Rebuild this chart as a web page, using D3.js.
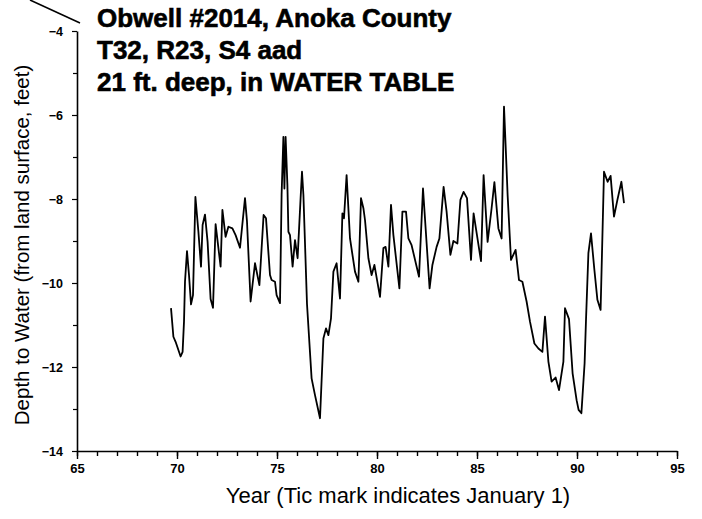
<!DOCTYPE html>
<html>
<head>
<meta charset="utf-8">
<script src="https://cdn.jsdelivr.net/npm/d3@7"></script>
<style>
  html, body { margin: 0; padding: 0; background: #fff; }
  svg { display: block; }
  text { font-family: "Liberation Sans", Arial, Helvetica, sans-serif; fill: #000; }
</style>
</head>
<body>
<svg id="chart" width="702" height="519"></svg>
<script>
// ---- data ----
const years = [
  69.70, 69.82, 69.93, 70.18, 70.28, 70.35, 70.40, 70.50, 70.60, 70.70, 70.80, 70.92,
  71.07, 71.20, 71.28, 71.40, 71.53, 71.68, 71.80, 71.93, 72.18, 72.27, 72.43, 72.57,
  72.77, 72.93, 73.15, 73.40, 73.50, 73.68, 73.90, 74.12, 74.33, 74.45, 74.65, 74.73,
  74.90, 74.98, 75.15, 75.23, 75.32, 75.37, 75.43, 75.52, 75.57, 75.65, 75.78, 75.90,
  76.03, 76.18, 76.25, 76.32, 76.50, 76.73, 76.90, 77.15, 77.32, 77.45, 77.57, 77.70,
  77.82, 77.98, 78.15, 78.27, 78.35, 78.48, 78.65, 78.90, 79.07, 79.20, 79.32, 79.40,
  79.57, 79.73, 79.87, 80.15, 80.32, 80.43, 80.57, 80.70, 80.82, 81.12, 81.27, 81.45,
  81.57, 81.73, 82.10, 82.30, 82.63, 82.77, 82.98, 83.12, 83.33, 83.48, 83.67, 83.82,
  84.02, 84.17, 84.33, 84.50, 84.70, 84.83, 85.20, 85.33, 85.53, 85.73, 85.87, 86.07,
  86.23, 86.35, 86.43, 86.53, 86.70, 86.93, 87.10, 87.27, 87.48, 87.65, 87.87, 88.07,
  88.27, 88.40, 88.57, 88.73, 88.93, 89.10, 89.32, 89.40, 89.60, 89.78, 89.98, 90.08,
  90.22, 90.38, 90.45, 90.57, 90.70, 90.87, 91.02, 91.18, 91.35, 91.53, 91.68, 91.85,
  92.02, 92.22, 92.35
];
const depths = [
  -10.60, -11.28, -11.40, -11.75, -11.64, -10.92, -9.97, -9.24, -9.81, -10.51, -10.29, -7.95,
  -8.78, -9.61, -8.62, -8.37, -9.02, -10.38, -10.59, -8.60, -9.61, -8.26, -8.90, -8.66,
  -8.70, -8.86, -9.16, -7.98, -8.54, -10.44, -9.53, -10.05, -8.38, -8.46, -9.81, -9.93,
  -9.97, -10.29, -10.48, -7.90, -6.52, -7.75, -6.52, -7.67, -8.78, -8.86, -9.61, -8.98,
  -9.41, -7.98, -7.35, -7.90, -10.50, -12.27, -12.67, -13.22, -11.32, -11.08, -11.24, -10.84,
  -9.73, -9.53, -10.37, -8.34, -8.46, -7.43, -8.94, -9.73, -9.97, -7.98, -8.22, -8.50,
  -9.41, -9.81, -9.57, -10.33, -9.17, -9.14, -9.61, -8.14, -8.86, -10.13, -8.30, -8.30,
  -8.94, -9.10, -9.85, -7.75, -10.13, -9.57, -9.14, -8.94, -7.71, -8.30, -9.33, -9.00,
  -9.06, -8.02, -7.83, -7.98, -9.45, -8.34, -9.48, -7.43, -9.02, -8.22, -7.60, -8.70,
  -8.94, -5.80, -6.71, -7.90, -9.45, -9.21, -9.93, -9.97, -10.44, -10.92, -11.44, -11.56,
  -11.64, -10.80, -11.87, -12.35, -12.25, -12.55, -11.87, -10.60, -10.86, -12.15, -12.79, -13.02,
  -13.10, -11.91, -10.88, -9.29, -8.82, -9.69, -10.40, -10.64, -7.35, -7.59, -7.45, -8.42,
  -8.02, -7.59, -8.10
];
const xMajorTicks = [65, 70, 75, 80, 85, 90, 95];
const xMinorTicks = d3.range(65, 96);
const yMajorTicks = [-4, -6, -8, -10, -12, -14];
const yMinorTicks = [-5, -7, -9, -11, -13];
const titleLines = ["Obwell #2014, Anoka County", "T32, R23, S4 aad", "21 ft. deep, in WATER TABLE"];
const xTitle = "Year (Tic mark indicates January 1)";
const yTitle = "Depth to Water (from land surface, feet)";

// ---- drawing ----
const svg = d3.select("#chart");
const x = d3.scaleLinear().domain([65, 95]).range([77, 677]);
const y = d3.scaleLinear().domain([-14, -4]).range([451, 31]);

// scan artifact diagonal stroke at top-left
svg.append("line").attr("x1", 30).attr("y1", 0).attr("x2", 80).attr("y2", 23)
  .attr("stroke", "#000").attr("stroke-width", 1.6);

// x axis: minor ticks
svg.append("g").attr("transform", `translate(0,${y(-14)})`)
  .call(d3.axisBottom(x).tickValues(xMinorTicks).tickSize(5).tickSizeOuter(0).tickFormat(""))
  .call(g => g.select(".domain").attr("stroke-width", 1.6))
  .call(g => g.selectAll(".tick line").attr("stroke-width", 1.4));
// x axis: major ticks + labels
svg.append("g").attr("transform", `translate(0,${y(-14)})`)
  .call(d3.axisBottom(x).tickValues(xMajorTicks).tickSize(8).tickSizeOuter(0).tickPadding(5).tickFormat(d3.format("d")))
  .call(g => g.select(".domain").remove())
  .call(g => g.selectAll(".tick line").attr("stroke-width", 1.4))
  .call(g => g.selectAll(".tick text").attr("font-size", 13).attr("font-weight", "bold")
    .attr("font-family", "'Liberation Sans', Arial, sans-serif"));

// y axis: minor ticks
svg.append("g").attr("transform", `translate(${x(65)},0)`)
  .call(d3.axisLeft(y).tickValues(yMinorTicks).tickSize(4).tickSizeOuter(0).tickFormat(""))
  .call(g => g.select(".domain").attr("stroke-width", 1.6))
  .call(g => g.selectAll(".tick line").attr("stroke-width", 1.2));
// y axis: major ticks + labels
svg.append("g").attr("transform", `translate(${x(65)},0)`)
  .call(d3.axisLeft(y).tickValues(yMajorTicks).tickSize(5).tickSizeOuter(0).tickPadding(9).tickFormat(d3.format("d")))
  .call(g => g.select(".domain").remove())
  .call(g => g.selectAll(".tick line").attr("stroke-width", 1.2))
  .call(g => g.selectAll(".tick text").attr("font-size", 12.5).attr("font-weight", "bold")
    .attr("font-family", "'Liberation Sans', Arial, sans-serif"));

// data line
const line = d3.line().x((d, i) => x(years[i])).y((d, i) => y(depths[i]));
svg.append("path").datum(depths).attr("d", line)
  .attr("fill", "none").attr("stroke", "#000").attr("stroke-width", 1.8)
  .attr("stroke-linejoin", "round");

// title
svg.append("g").selectAll("text").data(titleLines).join("text")
  .attr("x", 97).attr("y", (d, i) => 27 + i * 32)
  .attr("font-size", 26).attr("font-weight", "bold")
  .attr("stroke", "#000").attr("stroke-width", 0.6)
  .text(d => d);

// axis titles
svg.append("text").attr("x", 398).attr("y", 503).attr("text-anchor", "middle")
  .attr("font-size", 22).text(xTitle);
svg.append("text").attr("transform", "translate(29,245) rotate(-90)").attr("text-anchor", "middle")
  .attr("font-size", 20.5).text(yTitle);
</script>
</body>
</html>
